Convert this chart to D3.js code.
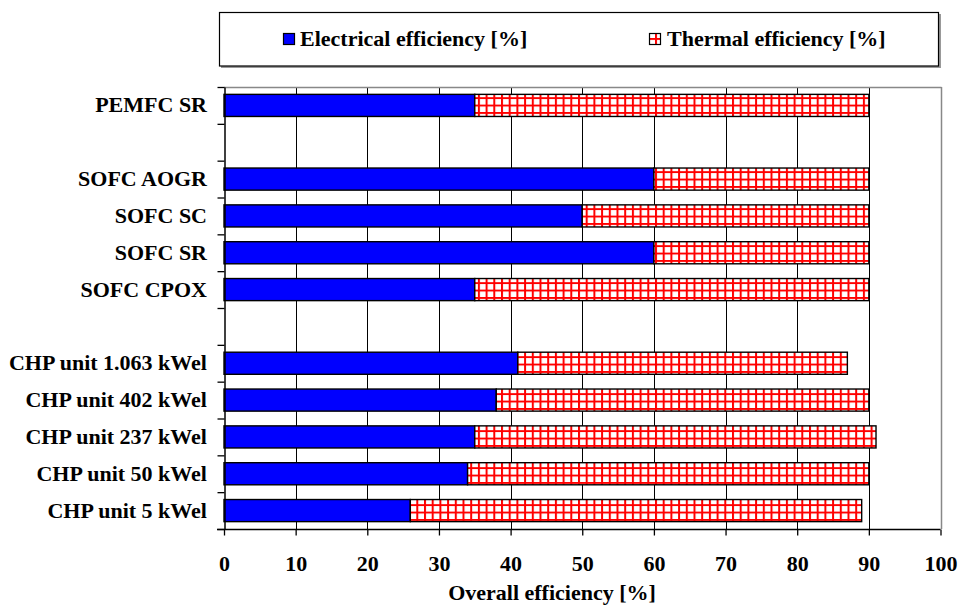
<!DOCTYPE html>
<html>
<head>
<meta charset="utf-8">
<script src="https://cdn.jsdelivr.net/npm/d3@7"></script>
<style>
  html, body { margin: 0; padding: 0; background: #fff; }
  svg { display: block; }
  text { font-family: "Liberation Serif", "Times New Roman", serif; font-weight: bold; fill: #000; }
</style>
</head>
<body>
<svg id="chart" width="960" height="607"></svg>
<script>
// Categories top to bottom; empty strings are spacer rows between groups
const categories = [
  "PEMFC SR", "",
  "SOFC AOGR", "SOFC SC", "SOFC SR", "SOFC CPOX", "",
  "CHP unit 1.063 kWel", "CHP unit 402 kWel", "CHP unit 237 kWel",
  "CHP unit 50 kWel", "CHP unit 5 kWel"
];
const electrical = [35, null, 60, 50, 60, 35, null, 41, 38, 35, 34, 26];
const thermal    = [55, null, 30, 40, 30, 55, null, 46, 52, 56, 56, 63];
const seriesNames = ["Electrical efficiency [%]", "Thermal efficiency [%]"];
const xTicks = [0, 10, 20, 30, 40, 50, 60, 70, 80, 90, 100];
const xTitle = "Overall efficiency [%]";

const svg = d3.select("#chart");
const W = 960, H = 607;
const m = { left: 224, right: 19.5, top: 87, bottom: 78 };
const x0 = m.left, x1 = W - m.right, y0 = m.top, y1 = H - m.bottom;
const FS = 22;

const x = d3.scaleLinear().domain([0, 100]).range([x0, x1]);
const idx = d3.range(categories.length);
const y = d3.scaleBand().domain(idx).range([y0, y1]).paddingInner(0.4).paddingOuter(0.2);
const yEdge = d3.scaleLinear().domain([0, categories.length]).range([y0, y1]);

// Red grid hatch used for the thermal part
const defs = svg.append("defs");
const pat = defs.append("pattern")
  .attr("id", "redgrid").attr("patternUnits", "userSpaceOnUse")
  .attr("x", 0.5).attr("y", 1).attr("width", 7.7).attr("height", 7.4);
pat.append("rect").attr("width", 7.7).attr("height", 7.4).attr("fill", "#fff");
pat.append("rect").attr("x", 0).attr("y", 0).attr("width", 2).attr("height", 7.4).attr("fill", "#ff0000");
pat.append("rect").attr("x", 0).attr("y", 0).attr("width", 7.7).attr("height", 1.9).attr("fill", "#ff0000");

// Vertical gridlines
const g = svg.append("g");
g.selectAll("line.grid").data(xTicks.filter(t => t > 0 && t < 100)).join("line")
  .attr("class", "grid")
  .attr("x1", d => Math.round(x(d)) + 0.5).attr("x2", d => Math.round(x(d)) + 0.5)
  .attr("y1", y0).attr("y2", y1)
  .attr("stroke", "#000").attr("stroke-width", 1);
// Plot frame (top and right)
g.append("line").attr("x1", x0).attr("x2", Math.round(x1) + 0.5).attr("y1", y0 + 0.5).attr("y2", y0 + 0.5)
  .attr("stroke", "#888").attr("stroke-width", 1.5);
g.append("line").attr("x1", Math.round(x1) + 0.5).attr("x2", Math.round(x1) + 0.5).attr("y1", y0).attr("y2", y1)
  .attr("stroke", "#888").attr("stroke-width", 1.5);

// Bars
const rows = idx.filter(i => electrical[i] != null);
const bars = svg.append("g");
bars.selectAll("rect.el").data(rows).join("rect")
  .attr("class", "el")
  .attr("x", x(0)).attr("y", i => y(i))
  .attr("width", i => x(electrical[i]) - x(0)).attr("height", y.bandwidth())
  .attr("fill", "#0000ff").attr("stroke", "#000").attr("stroke-width", 1.4);
bars.selectAll("rect.th").data(rows).join("rect")
  .attr("class", "th")
  .attr("x", i => x(electrical[i])).attr("y", i => y(i))
  .attr("width", i => x(electrical[i] + thermal[i]) - x(electrical[i])).attr("height", y.bandwidth())
  .attr("fill", "url(#redgrid)").attr("stroke", "#000").attr("stroke-width", 1.4);

// X axis
const xAxis = svg.append("g").attr("transform", `translate(0,${y1 + 0.5})`)
  .call(d3.axisBottom(x).tickValues(xTicks).tickSize(6).tickPadding(20).tickSizeOuter(0));
xAxis.select(".domain").attr("stroke", "#000").attr("stroke-width", 1.5)
  .attr("d", `M${x0 - 7},0H${x1}`);
xAxis.selectAll(".tick line").attr("stroke", "#000").attr("stroke-width", 1.3);
xAxis.selectAll(".tick text").attr("font-size", FS).attr("font-family", null).attr("fill", "#000");

// Y axis: boundary ticks between rows, labels at row centres
const yTickAxis = svg.append("g").attr("transform", `translate(${x0 + 0.5},0)`)
  .call(d3.axisLeft(yEdge).tickValues(d3.range(categories.length + 1)).tickFormat("").tickSize(7).tickSizeOuter(0));
yTickAxis.select(".domain").attr("stroke", "#000").attr("stroke-width", 1.5);
yTickAxis.selectAll(".tick line").attr("stroke", "#000").attr("stroke-width", 1.3);

const yLab = svg.append("g").attr("transform", `translate(${x0},0)`)
  .call(d3.axisLeft(y).tickSize(0).tickPadding(17).tickFormat(i => categories[i]));
yLab.select(".domain").remove();
yLab.selectAll(".tick text").attr("font-size", FS).attr("font-family", null).attr("fill", "#000");

// Axis title
svg.append("text").attr("x", 552).attr("y", 600).attr("text-anchor", "middle")
  .attr("font-size", FS).text(xTitle);

// Legend box with shadow
const lg = svg.append("g");
lg.append("rect").attr("x", 221).attr("y", 14).attr("width", 720).attr("height", 54).attr("fill", "#999");
lg.append("rect").attr("x", 219.5).attr("y", 12.5).attr("width", 719).attr("height", 53.5)
  .attr("fill", "#fff").attr("stroke", "#000").attr("stroke-width", 1.2);
const legendItems = [
  { name: seriesNames[0], fill: "#0000ff", sx: 283, tx: 300 },
  { name: seriesNames[1], fill: "url(#redgrid)", sx: 649, tx: 667 }
];
legendItems.forEach(d => {
  lg.append("rect").attr("x", d.sx + 0.5).attr("y", 33.5).attr("width", 11).attr("height", 11)
    .attr("fill", d.fill).attr("stroke", "#000").attr("stroke-width", 1.2);
  lg.append("text").attr("x", d.tx).attr("y", 46).attr("font-size", FS).text(d.name);
});
</script>
</body>
</html>
